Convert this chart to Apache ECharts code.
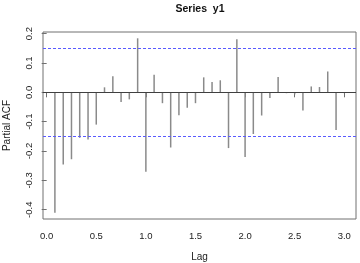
<!DOCTYPE html>
<html>
<head>
<meta charset="utf-8">
<script src="https://cdn.jsdelivr.net/npm/echarts@6/dist/echarts.min.js"></script>
<style>
  html, body { margin: 0; padding: 0; background: #fff; }
  #chart { width: 360px; height: 263px; }
</style>
</head>
<body>
<div id="chart"></div>
<script>
// lags (frequency 12) and partial autocorrelations
var lags = [0.083, 0.167, 0.250, 0.333, 0.417, 0.500, 0.583, 0.667, 0.750, 0.833, 0.917, 1.000,
            1.083, 1.167, 1.250, 1.333, 1.417, 1.500, 1.583, 1.667, 1.750, 1.833, 1.917, 2.000,
            2.083, 2.167, 2.250, 2.333, 2.417, 2.500, 2.583, 2.667, 2.750, 2.833, 2.917, 3.000];
var pacf = [-0.410, -0.246, -0.228, -0.155, -0.161, -0.110, 0.017, 0.055, -0.033, -0.024, 0.184, -0.271,
            0.060, -0.037, -0.188, -0.078, -0.053, -0.037, 0.051, 0.035, 0.041, -0.190, 0.181, -0.220,
            -0.142, -0.079, -0.019, 0.052, -0.003, -0.007, -0.062, 0.020, 0.018, 0.071, -0.128, -0.003];
var xTicks = [0, 0.5, 1, 1.5, 2, 2.5, 3];
var yTicks = [-0.4, -0.3, -0.2, -0.1, 0, 0.1, 0.2];
var ci = 0.151;

var font = 'Liberation Sans, Arial, sans-serif';
var myChart = echarts.init(document.getElementById('chart'), null, {renderer: 'canvas'});

var data = [];
for (var i = 0; i < lags.length; i++) {
    data.push([lags[i], pacf[i]]);
}

var option = {
    animation: false,
    title: {
        text: 'Series  y1',
        left: 200,
        textAlign: 'center',
        top: 4,
        padding: 0,
        textStyle: {fontFamily: font, fontSize: 10.5, fontWeight: 'bold', color: '#111'}
    },
    grid: {
        left: 43, right: 4, top: 32, bottom: 44,
        outerBoundsMode: 'none',
        containLabel: false,
        show: true, borderColor: '#707070', borderWidth: 1, backgroundColor: 'transparent'
    },
    xAxis: {
        type: 'value',
        min: -0.037, max: 3.118,
        name: 'Lag',
        nameLocation: 'middle',
        nameGap: 33,
        nameTextStyle: {fontFamily: font, fontSize: 10, color: '#222', verticalAlign: 'top'},
        axisLine: {show: false},
        splitLine: {show: false},
        axisTick: {show: true, length: 5, lineStyle: {color: '#707070'}, customValues: xTicks},
        axisLabel: {
            fontFamily: font, fontSize: 9.5, color: '#222', margin: 12.5,
            customValues: xTicks,
            formatter: function (v) { return v.toFixed(1); }
        }
    },
    yAxis: {
        type: 'value',
        min: -0.4316, max: 0.2055,
        name: 'Partial ACF',
        nameLocation: 'middle',
        nameGap: 31,
        nameTextStyle: {fontFamily: font, fontSize: 10, color: '#222'},
        axisLine: {show: false},
        splitLine: {show: false},
        axisTick: {show: true, length: 5, lineStyle: {color: '#707070'}, customValues: yTicks},
        axisLabel: {
            fontFamily: font, fontSize: 9.5, color: '#222', margin: 9, rotate: 90,
            customValues: yTicks,
            formatter: function (v) { return v.toFixed(1); }
        }
    },
    series: [{
        type: 'bar',
        data: data,
        barWidth: 1.5,
        itemStyle: {color: '#8a8a8a'},
        markLine: {
            silent: true,
            symbol: 'none',
            label: {show: false},
            data: [
                {yAxis: 0, lineStyle: {color: '#404040', width: 1, type: 'solid'}},
                {yAxis: ci, lineStyle: {color: '#5a5aff', width: 1, type: [3, 2]}},
                {yAxis: -ci, lineStyle: {color: '#5a5aff', width: 1, type: [3, 2]}}
            ]
        }
    }]
};
option && myChart.setOption(option);
</script>
</body>
</html>
